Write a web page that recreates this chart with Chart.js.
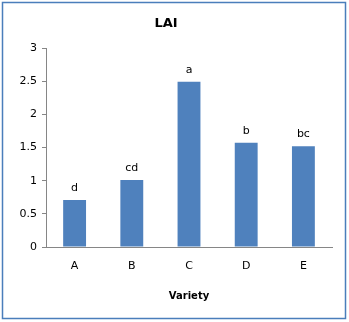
<!DOCTYPE html>
<html>
<head>
<meta charset="utf-8">
<script src="https://cdn.jsdelivr.net/npm/chart.js@4"></script>
<style>
  html, body { margin: 0; padding: 0; background: #fff; }
  #chart-container { width: 349px; height: 322px; }
</style>
</head>
<body>
<div id="chart-container"><canvas id="lai-chart"></canvas></div>
<script>
const varieties = ['A', 'B', 'C', 'D', 'E'];
const laiValues = [0.71, 1.01, 2.49, 1.57, 1.52];
const groupLetters = ['d', 'cd', 'a', 'b', 'bc'];

const FONT = 'DejaVu Sans';
const AXIS_GRAY = '#868686';

// White background plus the blue frame around the whole chart
const framePlugin = {
  id: 'frame',
  beforeDraw: (chart) => {
    const ctx = chart.ctx;
    ctx.save();
    ctx.fillStyle = '#ffffff';
    ctx.fillRect(0, 0, chart.width, chart.height);
    ctx.strokeStyle = '#4a7ebb';
    ctx.lineWidth = 1.5;
    ctx.strokeRect(2.5, 2.5, chart.width - 6, chart.height - 6);
    ctx.restore();
  }
};

// Significance letters above each bar
const letterPlugin = {
  id: 'letters',
  afterDatasetsDraw: (chart) => {
    const ctx = chart.ctx;
    const meta = chart.getDatasetMeta(0);
    ctx.save();
    ctx.font = '11px "' + FONT + '"';
    ctx.fillStyle = '#000';
    ctx.textAlign = 'center';
    ctx.textBaseline = 'middle';
    meta.data.forEach((bar, i) => {
      ctx.fillText(groupLetters[i], bar.x, bar.y - 12);
    });
    ctx.restore();
  }
};

const ctx = document.getElementById('lai-chart');

window.chart = new Chart(ctx, {
  type: 'bar',
  data: {
    labels: varieties,
    datasets: [{
      data: laiValues,
      backgroundColor: '#4f81bd',
      barPercentage: 0.4,
      categoryPercentage: 1.0,
    }]
  },
  options: {
    responsive: true,
    maintainAspectRatio: false,
    animation: false,
    layout: {
      padding: { left: 0, right: 17, top: 0, bottom: 0 }
    },
    plugins: {
      legend: { display: false },
      tooltip: { enabled: false },
      title: {
        display: true,
        text: 'LAI',
        color: '#000',
        font: { family: FONT, size: 13, weight: 'bold' },
        padding: { top: 15.5, bottom: 16.9 }
      }
    },
    scales: {
      x: {
        grid: { display: false, drawTicks: false },
        border: { display: true, color: AXIS_GRAY, width: 1 },
        ticks: {
          color: '#000',
          font: { family: FONT, size: 11 },
          padding: 13
        },
        title: {
          display: true,
          text: 'Variety',
          color: '#000',
          font: { family: FONT, size: 10, weight: 'bold' },
          padding: { top: 0, bottom: 20 }
        },
        afterFit: (scale) => { scale.height = 75; }
      },
      y: {
        min: 0,
        max: 3,
        grid: {
          drawOnChartArea: false,
          drawTicks: true,
          tickLength: 4,
          color: AXIS_GRAY
        },
        border: { display: true, color: AXIS_GRAY, width: 1 },
        ticks: {
          stepSize: 0.5,
          color: '#000',
          font: { family: FONT, size: 11 },
          padding: 5,
          callback: (value) => String(value)
        },
        afterFit: (scale) => { scale.width = 46; }
      }
    }
  },
  plugins: [framePlugin, letterPlugin]
});
</script>
</body>
</html>
